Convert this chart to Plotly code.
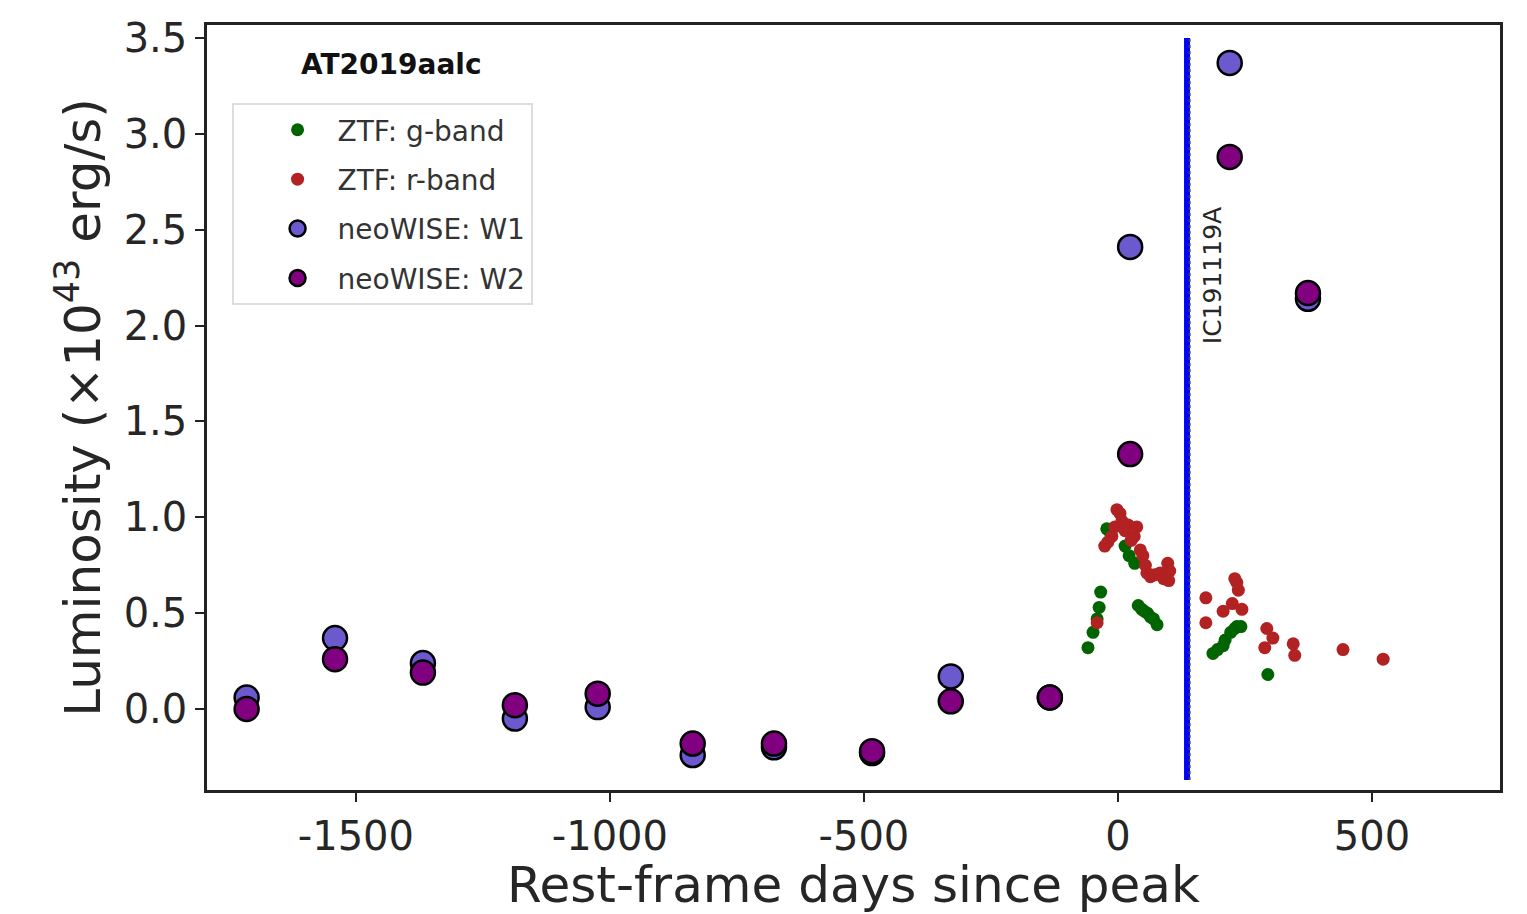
import plotly.graph_objects as go

# ZTF optical photometry (rest-frame days since peak, luminosity in 1e43 erg/s)
g_days = [-59, -49, -41, -37, -34, -22, -14, 14, 22, 33, 40, 47, 52, 58, 64, 70, 77,
          187, 196, 207, 211, 222, 230, 234, 242, 295]
g_lum = [0.32, 0.40, 0.47, 0.53, 0.61, 0.94, 0.91, 0.85, 0.80, 0.76, 0.54, 0.52, 0.51,
         0.50, 0.48, 0.47, 0.44, 0.29, 0.31, 0.33, 0.36, 0.40, 0.42, 0.43, 0.43, 0.18]

r_days = [-41, -26, -20, -12, -6, -2, 4, 8, 14, 20, 26, 32, 37, 44, 49, 54, 57, 64, 72,
          83, 90, 98, 100, 102, 173, 173, 207, 225, 230, 234, 237, 244, 289, 293, 305,
          345, 348, 443, 522]
r_lum = [0.45, 0.85, 0.87, 0.90, 0.95, 1.04, 1.02, 0.98, 0.93, 0.96, 0.88, 0.90, 0.95,
         0.83, 0.80, 0.75, 0.71, 0.69, 0.70, 0.71, 0.68, 0.76, 0.67, 0.72, 0.58, 0.45,
         0.51, 0.55, 0.68, 0.66, 0.62, 0.52, 0.32, 0.42, 0.37, 0.34, 0.28, 0.31, 0.26]

# neoWISE mid-infrared epochs
wise_days = [-1715, -1541, -1368, -1187, -1024, -837, -677, -484, -329, -134, 24, 220, 374]
w1_lum = [0.06, 0.37, 0.24, -0.05, 0.01, -0.24, -0.20, -0.23, 0.17, 0.06, 2.41, 3.37, 2.14]
w2_lum = [0.00, 0.26, 0.19, 0.02, 0.08, -0.18, -0.18, -0.22, 0.04, 0.06, 1.33, 2.88, 2.17]

# Neutrino alert time
IC_DAY = 136
IC_NAME = "IC191119A"

x_ticks = [-1500, -1000, -500, 0, 500]
y_ticks = [0.0, 0.5, 1.0, 1.5, 2.0, 2.5, 3.0, 3.5]

FONT = "DejaVu Sans"
TXT = "#262626"

fig = go.Figure()

# neutrino line with dotted edge
fig.add_trace(go.Scatter(x=[IC_DAY, IC_DAY], y=[-0.37, 3.5], mode="lines",
                         line=dict(color="#0000ff", width=6), showlegend=False,
                         hoverinfo="skip"))
fig.add_trace(go.Scatter(x=[IC_DAY + 5, IC_DAY + 5], y=[-0.37, 3.5], mode="lines",
                         line=dict(color="#444444", width=2, dash="dot"),
                         showlegend=False, hoverinfo="skip"))

fig.add_trace(go.Scatter(x=g_days, y=g_lum, mode="markers", name="ZTF: g-band",
                         legendgroup="g",
                         marker=dict(color="#006400", size=13, line=dict(width=0))))
fig.add_trace(go.Scatter(x=r_days, y=r_lum, mode="markers", name="ZTF: r-band",
                         legendgroup="r",
                         marker=dict(color="#b22222", size=13, line=dict(width=0))))
fig.add_trace(go.Scatter(x=wise_days, y=w1_lum, mode="markers", name="neoWISE: W1",
                         legendgroup="w1",
                         marker=dict(color="#6a5acd", size=24,
                                     line=dict(color="black", width=2.5))))
fig.add_trace(go.Scatter(x=wise_days, y=w2_lum, mode="markers", name="neoWISE: W2",
                         legendgroup="w2",
                         marker=dict(color="#800080", size=24,
                                     line=dict(color="black", width=2.5))))

fig.add_annotation(x=IC_DAY + 50, y=2.26, text=IC_NAME, textangle=-90, showarrow=False,
                   font=dict(family=FONT, size=25, color=TXT))
fig.add_annotation(xref="paper", yref="paper", x=0.071, y=0.948, xanchor="left",
                   yanchor="middle", text="<b>AT2019aalc</b>", showarrow=False,
                   font=dict(family=FONT, size=28, color="#111"))

axis_common = dict(showgrid=False, zeroline=False, showline=True, linecolor="#222",
                   linewidth=2.5, mirror=True, ticks="outside", ticklen=9,
                   tickwidth=2, tickcolor="#222",
                   tickfont=dict(family=FONT, size=40, color=TXT))

fig.update_xaxes(range=[-1793, 752], tickvals=x_ticks,
                 ticktext=[str(v) for v in x_ticks],
                 title=dict(text="Rest-frame days since peak", standoff=8,
                            font=dict(family=FONT, size=50, color=TXT)),
                 **axis_common)
fig.update_yaxes(range=[-0.4225, 3.568], tickvals=y_ticks,
                 ticktext=[f"{v:.1f}" for v in y_ticks],
                 title=dict(text="Luminosity (×10<sup>43</sup> erg/s)", standoff=8,
                            font=dict(family=FONT, size=50, color=TXT)),
                 **axis_common)

fig.update_layout(
    width=1527, height=914,
    margin=dict(l=207, r=27, t=25, b=124),
    plot_bgcolor="white", paper_bgcolor="white",
    legend=dict(x=0.019, y=0.898, xanchor="left", yanchor="top",
                bgcolor="rgba(255,255,255,0.9)", bordercolor="#dddddd", borderwidth=2,
                font=dict(family=FONT, size=28, color="#333333"),
                itemsizing="trace", tracegroupgap=10, itemwidth=70, indentation=24,
                entrywidth=250),
    font=dict(family=FONT, color=TXT),
)

fig.write_html("out.html")
